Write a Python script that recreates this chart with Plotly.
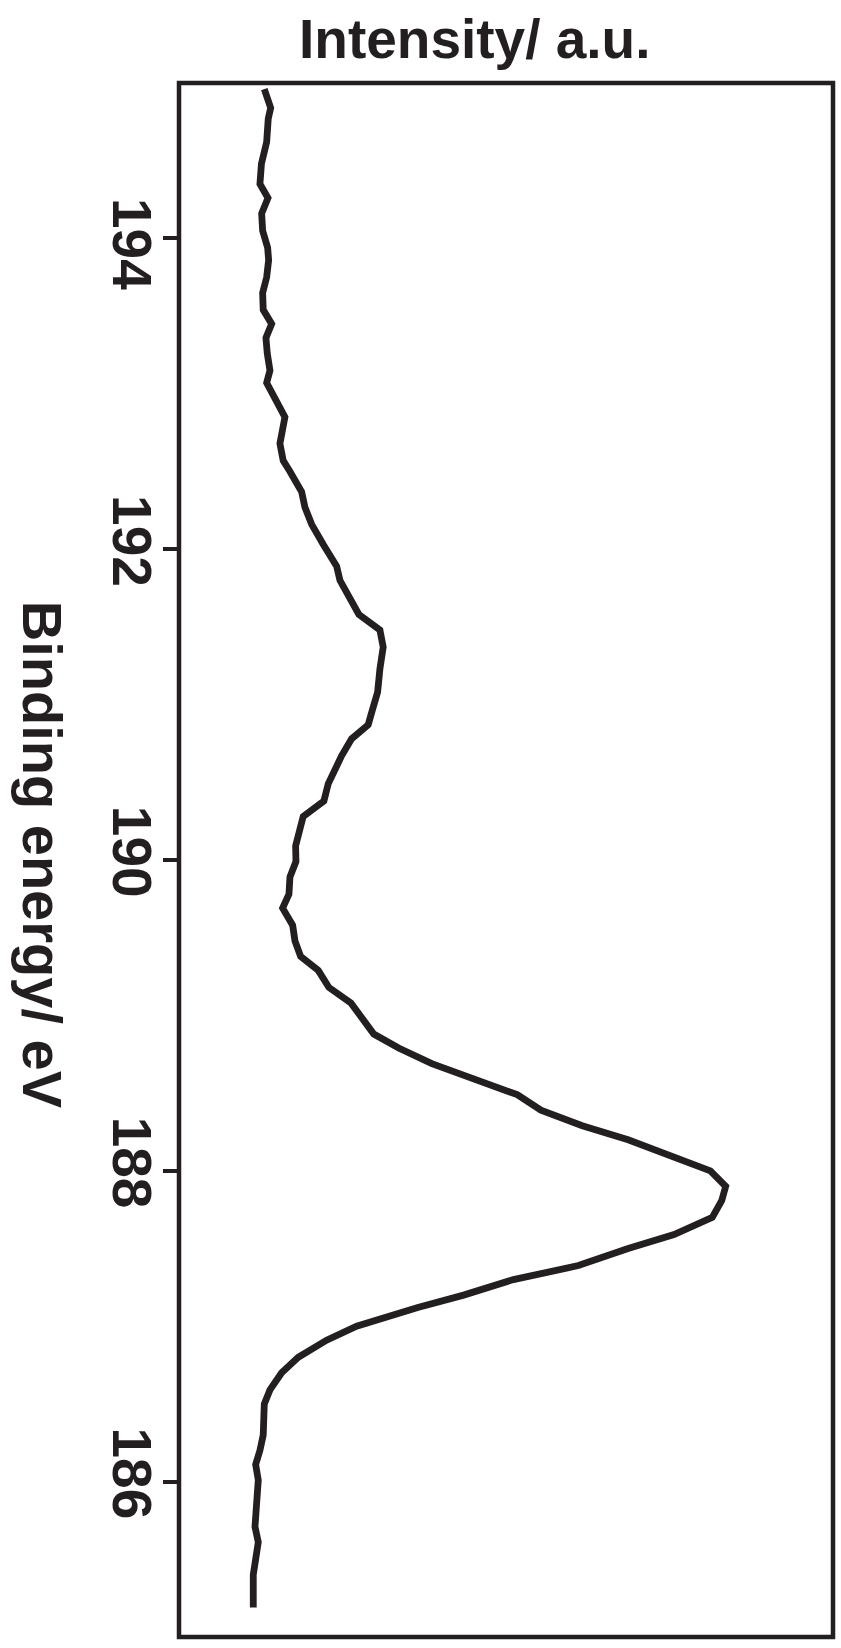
import plotly.graph_objects as go

# Binding energy (eV) and intensity (a.u.)
binding_energy = [
    194.96, 194.84, 194.77, 194.62, 194.48, 194.35, 194.26, 194.16, 194.05, 193.94,
    193.86, 193.75, 193.65, 193.54, 193.45, 193.36, 193.26, 193.15, 193.07, 192.94,
    192.85, 192.68, 192.57, 192.50, 192.37, 192.27, 192.16, 192.03, 191.89, 191.80,
    191.69, 191.58, 191.48, 191.37, 191.23, 191.08, 190.97, 190.87, 190.78, 190.67,
    190.49, 190.38, 190.28, 190.18, 190.09, 189.99, 189.89, 189.78, 189.69, 189.58,
    189.48, 189.38, 189.29, 189.18, 189.08, 188.88, 188.79, 188.69, 188.59, 188.49,
    188.39, 188.29, 188.20, 188.09, 188.00, 187.90, 187.81, 187.70, 187.59, 187.50,
    187.39, 187.30, 187.20, 187.12, 187.00, 186.91, 186.80, 186.70, 186.59, 186.50,
    186.30, 186.20, 186.11, 186.01, 185.82, 185.71, 185.61, 185.51, 185.40, 185.19,
]
intensity = [
    13.08, 14.05, 13.68, 13.44, 12.65, 12.42, 13.64, 12.68, 12.83, 13.59,
    13.74, 13.44, 12.83, 12.92, 14.20, 13.33, 13.53, 13.94, 13.44, 14.95,
    16.21, 15.45, 15.95, 16.97, 18.74, 19.24, 20.26, 22.02, 24.05, 24.55,
    25.91, 27.42, 30.61, 31.11, 30.61, 30.26, 29.50, 28.83, 26.32, 24.80,
    22.77, 22.12, 18.98, 18.48, 17.83, 17.88, 16.97, 16.82, 15.86, 17.38,
    17.73, 18.59, 21.26, 22.88, 26.21, 29.68, 33.45, 38.48, 45.05, 51.42,
    55.02, 61.29, 68.24, 74.91, 80.71, 83.03, 82.44, 81.00, 75.20, 68.24,
    60.70, 50.85, 43.30, 36.35, 27.08, 22.53, 18.23, 15.71, 13.94, 13.08,
    12.92, 12.42, 11.77, 12.17, 11.92, 11.67, 12.17, 11.77, 11.41, 11.41,
]
energy_ticks = [186, 188, 190, 192, 194]
energy_tick_labels = ["186", "188", "190", "192", "\u2002194"]

ink = "#231F20"
font_family = "Liberation Sans, Arial, Helvetica, sans-serif"

fig = go.Figure()
fig.add_trace(go.Scatter(
    x=intensity, y=binding_energy, mode="lines",
    line=dict(color=ink, width=6.8),
    hoverinfo="skip", showlegend=False,
))

fig.update_layout(
    width=841, height=1648,
    margin=dict(l=179, r=7.5, t=82.5, b=10.5),
    paper_bgcolor="white", plot_bgcolor="white",
    font=dict(family=font_family, color=ink),
    xaxis=dict(
        range=[0.15, 99.3], showgrid=False, zeroline=False,
        showline=False, ticks="", showticklabels=False,
    ),
    yaxis=dict(
        range=[185, 195], showgrid=False, zeroline=False,
        showline=False,
        ticks="outside", ticklen=15, tickwidth=4, tickcolor=ink,
        tickvals=energy_ticks, ticktext=energy_tick_labels,
        tickangle=90, ticklabelstandoff=-16,
        tickfont=dict(family=font_family, size=55, color=ink, weight="bold"),
    ),
    shapes=[
        dict(type="rect", xref="paper", yref="paper", x0=0, x1=1, y0=0, y1=1,
             line=dict(color=ink, width=4.5), fillcolor="rgba(0,0,0,0)", layer="above"),
    ],
    annotations=[
        dict(
            text="<b>Intensity/ a.u.</b>", xref="paper", yref="paper",
            x=0.4515, y=1.028, xanchor="center", yanchor="middle",
            showarrow=False, font=dict(family=font_family, size=55, color=ink),
        ),
        dict(
            text="<b>Binding energy/ eV</b>", xref="paper", yref="paper",
            x=-0.2093, y=0.5039, xanchor="center", yanchor="middle",
            textangle=90, showarrow=False,
            font=dict(family=font_family, size=56, color=ink),
        ),
    ],
)

fig.write_html(
    "out.html",
    config={"displayModeBar": False, "staticPlot": True},
    post_script="document.body.style.margin='0';",
)
